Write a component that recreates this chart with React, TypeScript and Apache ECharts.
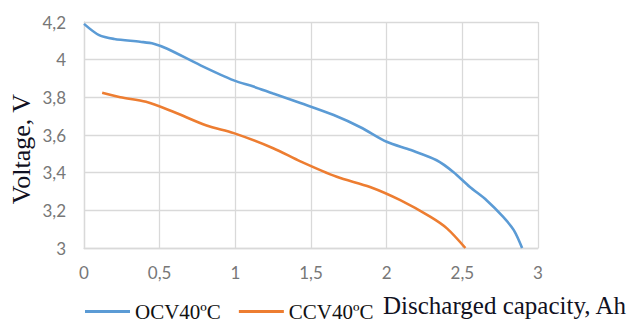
import React, { useEffect, useRef } from "react";
import * as echarts from "echarts";

const ocvCapacity = [0, 0.1, 0.2, 0.37, 0.46, 0.55, 0.77, 0.99, 1.12, 1.25, 1.43, 1.65, 1.83, 2.0, 2.16, 2.33, 2.44, 2.55, 2.66, 2.77, 2.84, 2.895];
const ocvVoltage = [4.19, 4.13, 4.11, 4.095, 4.085, 4.058, 3.97, 3.89, 3.857, 3.82, 3.77, 3.706, 3.64, 3.564, 3.52, 3.466, 3.404, 3.324, 3.254, 3.165, 3.095, 3.0];

const ccvCapacity = [0.12, 0.24, 0.41, 0.59, 0.81, 0.99, 1.25, 1.43, 1.67, 1.89, 2.09, 2.29, 2.4, 2.52];
const ccvVoltage = [3.824, 3.8, 3.776, 3.723, 3.65, 3.61, 3.53, 3.46, 3.378, 3.324, 3.254, 3.165, 3.103, 3.0];

const seriesNames = ["OCV40ºC", "CCV40ºC"];
const xTitle = "Discharged capacity, Ah";
const yTitle = "Voltage, V";

const pair = (xs: number[], ys: number[]) => xs.map((x, i) => [x, ys[i]]);
const fmt = (v: number) => String(Math.round(v * 10) / 10).replace(".", ",");

export default function App() {
  const ref = useRef<HTMLDivElement>(null);
  useEffect(() => {
    if (!ref.current) return;
    const chart = echarts.init(ref.current, undefined, { renderer: "svg" });
    const tickFont = { color: "#777777", fontSize: 17, fontFamily: "Lato" };
    chart.setOption({
      animation: false,
      backgroundColor: "#ffffff",
      grid: { left: 84, right: 97, top: 22, bottom: 74, containLabel: false, outerBoundsMode: "none" },
      xAxis: {
        type: "value",
        min: 0,
        max: 3,
        interval: 0.5,
        axisLine: { show: true, lineStyle: { color: "#d9d9d9", width: 1.3 } },
        axisTick: { show: false },
        splitLine: { show: true, lineStyle: { color: "#d9d9d9", width: 1.3 } },
        axisLabel: { ...tickFont, margin: 16, formatter: fmt },
      },
      yAxis: {
        type: "value",
        min: 3,
        max: 4.2,
        interval: 0.2,
        axisLine: { show: true, lineStyle: { color: "#d9d9d9", width: 1.3 } },
        axisTick: { show: false },
        splitLine: { show: true, lineStyle: { color: "#d9d9d9", width: 1.3 } },
        axisLabel: { ...tickFont, margin: 18, formatter: fmt },
      },
      legend: {
        left: 85,
        top: 301,
        padding: 0,
        itemWidth: 45,
        itemHeight: 3,
        itemGap: 18,
        icon: "rect",
        textStyle: { fontFamily: "Liberation Serif", fontSize: 21, color: "#111111" },
        data: seriesNames,
      },
      graphic: [
        {
          type: "text",
          x: 21,
          y: 149,
          rotation: Math.PI / 2,
          style: {
            text: yTitle,
            fontFamily: "Liberation Serif",
            fontSize: 26,
            fill: "#111122",
            textAlign: "center",
            textVerticalAlign: "middle",
          },
        },
        {
          type: "text",
          x: 383,
          y: 305,
          style: {
            text: xTitle,
            fontFamily: "Liberation Serif",
            fontSize: 25,
            fill: "#111122",
            textAlign: "left",
            textVerticalAlign: "middle",
          },
        },
      ],
      series: [
        {
          name: seriesNames[0],
          type: "line",
          data: pair(ocvCapacity, ocvVoltage),
          smooth: 0.3,
          symbol: "none",
          lineStyle: { color: "#5b9bd5", width: 2.6 },
          itemStyle: { color: "#5b9bd5" },
        },
        {
          name: seriesNames[1],
          type: "line",
          data: pair(ccvCapacity, ccvVoltage),
          smooth: 0.3,
          symbol: "none",
          lineStyle: { color: "#ed7d31", width: 2.6 },
          itemStyle: { color: "#ed7d31" },
        },
      ],
    });
    return () => chart.dispose();
  }, []);
  return <div ref={ref} style={{ position: "fixed", left: 0, top: 0, width: 635, height: 322 }} />;
}
